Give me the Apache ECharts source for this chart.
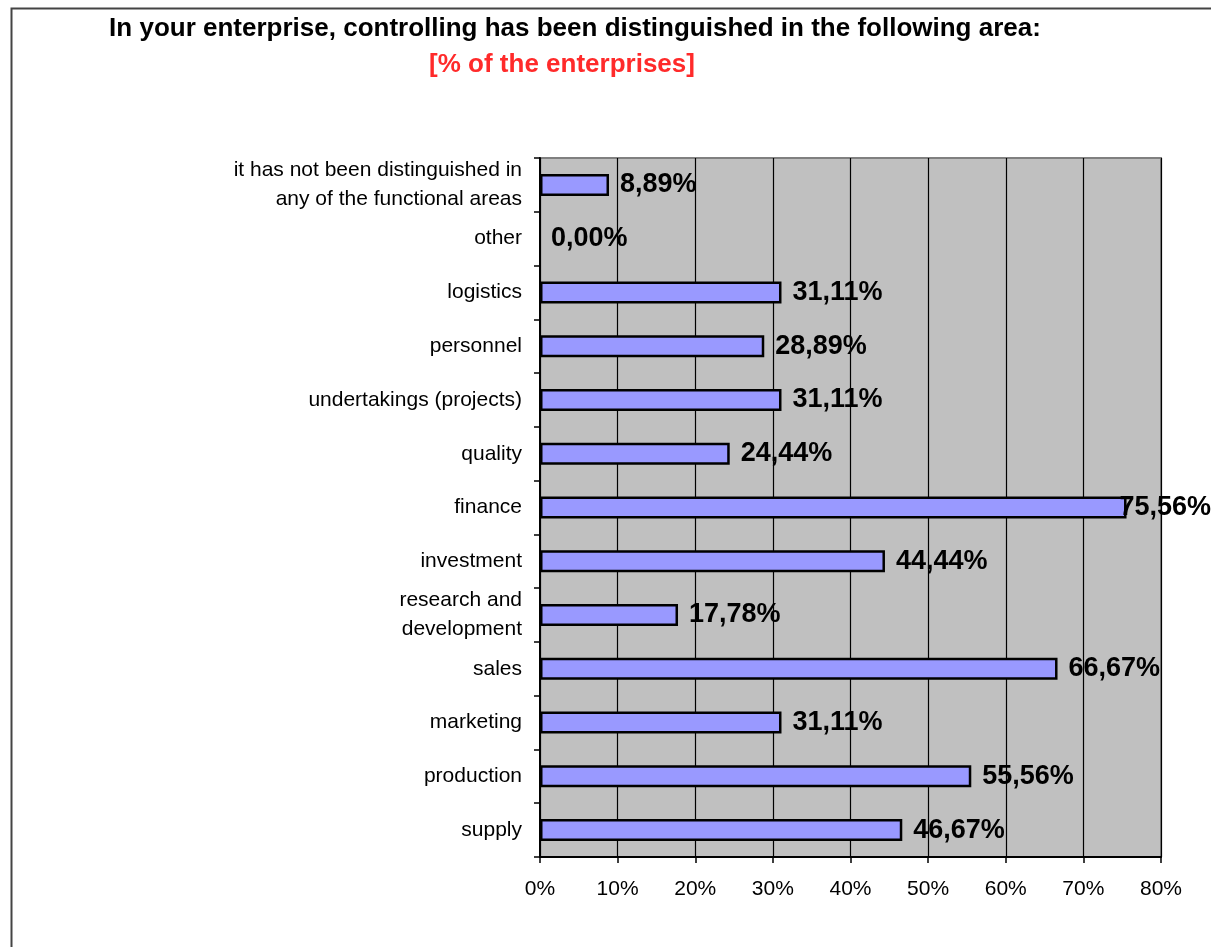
<!DOCTYPE html>
<html>
<head>
<meta charset="utf-8">
<script src="https://cdn.jsdelivr.net/npm/echarts@6/dist/echarts.min.js"></script>
<style>
  html, body { margin: 0; padding: 0; background: #fff; }
  #chart { width: 1211px; height: 947px; }
</style>
</head>
<body>
<div id="chart"></div>
<script>
// Controlling areas, listed bottom to top as drawn on the category axis
const categories = [
  'supply',
  'production',
  'marketing',
  'sales',
  'research and\ndevelopment',
  'investment',
  'finance',
  'quality',
  'undertakings (projects)',
  'personnel',
  'logistics',
  'other',
  'it has not been distinguished in\nany of the functional areas'
];
// Share of enterprises, in percent
const shares = [46.67, 55.56, 31.11, 66.67, 17.78, 44.44, 75.56, 24.44, 31.11, 28.89, 31.11, 0.00, 8.89];
const xTicks = [0, 10, 20, 30, 40, 50, 60, 70, 80];

const FONT = '"Liberation Sans", Arial, sans-serif';
const CHART_W = 1211;
const chart = echarts.init(document.getElementById('chart'), null, { renderer: 'canvas' });

// a zero share gets no outline so no sliver is drawn on the axis
const barData = shares.map(v => v === 0
  ? { value: v, itemStyle: { borderWidth: 0, color: 'rgba(0,0,0,0)' } }
  : v);

chart.setOption({
  backgroundColor: '#ffffff',
  animation: false,
  graphic: [
    // frame around the chart area
    { type: 'rect', left: 9, top: 6, shape: { width: 1240, height: 980 },
      style: { fill: 'none', stroke: '#444', lineWidth: 2 }, silent: true },
    { type: 'text', x: 575, y: 29, style: {
      text: 'In your enterprise, controlling has been distinguished in the following area:',
      font: 'bold 26px ' + FONT, fill: '#000', textAlign: 'center', textVerticalAlign: 'middle' }, z: 10 },
    { type: 'text', x: 562, y: 65, style: {
      text: '[% of the enterprises]',
      font: 'bold 26px ' + FONT, fill: '#ff2a2a', textAlign: 'center', textVerticalAlign: 'middle' }, z: 10 }
  ],
  grid: { left: 540, right: 50, top: 158, bottom: 90, containLabel: false,
    show: true, backgroundColor: '#c0c0c0', borderColor: '#808080', borderWidth: 2 },
  xAxis: {
    type: 'value', min: 0, max: 80, interval: 10,
    axisLine: { show: true, lineStyle: { color: '#000', width: 2 } },
    axisTick: { show: true, length: 6, lineStyle: { color: '#000', width: 1.5 } },
    splitLine: { show: true, lineStyle: { color: '#000', width: 1.2 } },
    axisLabel: { formatter: v => xTicks.includes(v) ? v + '%' : '',
      color: '#000', fontFamily: FONT, fontSize: 21, margin: 22 }
  },
  yAxis: {
    type: 'category', data: categories,
    axisLine: { show: true, lineStyle: { color: '#000', width: 2 } },
    axisTick: { show: true, length: 6, alignWithLabel: false, lineStyle: { color: '#000', width: 1.5 } },
    axisLabel: { color: '#000', fontFamily: FONT, fontSize: 21, margin: 18,
      align: 'right', lineHeight: 29 },
    splitLine: { show: false }
  },
  series: [{
    type: 'bar', data: barData, barWidth: 22,
    itemStyle: { color: '#9999ff', borderColor: '#000', borderWidth: 2.5 },
    label: { show: true, position: 'right', distance: 11,
      formatter: p => p.value.toFixed(2).replace('.', ',') + '%',
      color: '#000', fontFamily: FONT, fontWeight: 'bold', fontSize: 27 },
    // pull a value label back inside the canvas when it would run off the right edge
    labelLayout: function (params) {
      const r = params.labelRect;
      if (r.x + r.width > CHART_W) {
        return { x: CHART_W - r.width, y: r.y, align: 'left', verticalAlign: 'top' };
      }
      return {};
    }
  }]
});
</script>
</body>
</html>
